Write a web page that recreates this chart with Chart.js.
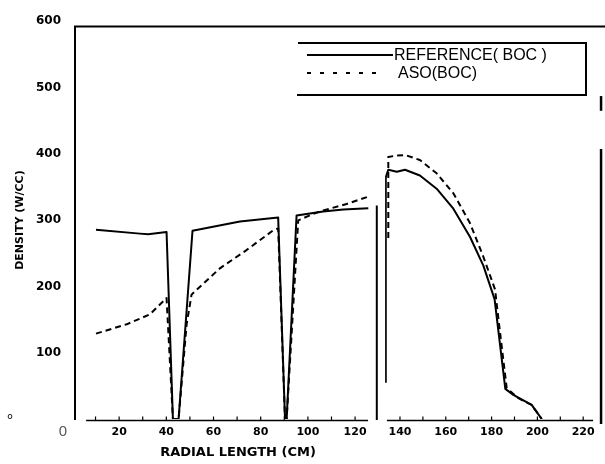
<!DOCTYPE html>
<html><head><meta charset="utf-8">
<script src="https://cdn.jsdelivr.net/npm/chart.js@4.4.0/dist/chart.umd.min.js"></script>
<style>
html,body{margin:0;padding:0;background:#fff;}
#wrap{position:relative;width:605px;height:464px;overflow:hidden;background:#fff;}
#wrap canvas{position:absolute;left:0;top:0;}
</style></head><body>
<div id="wrap"><canvas id="a" width="605" height="464"></canvas><canvas id="b" width="605" height="464"></canvas></div>
<script>
// ---- data ----
const seriesNames = ['REFERENCE( BOC )', 'ASO(BOC)'];
const xTitle = 'RADIAL LENGTH (CM)';
const yTitle = 'DENSITY (W/CC)';
const yTicks = [0, 100, 200, 300, 400, 500, 600];
const xTicks1 = [10, 20, 30, 40, 50, 60, 70, 80, 90, 100, 110, 120];
const xTicks2 = [140, 150, 160, 170, 180, 190, 200, 210, 220];

// left panel (radial length < 130 cm)
const refX1 = [10.2, 28.8, 32.3, 40.1, 42.8, 45.2, 51.1, 71.2, 87.4, 90.3, 91.0, 95.2, 106.5, 115.0, 125.6];
const refY1 = [285.5, 279.6, 278.7, 282, 0, 0, 284, 298, 304, 0, 0, 307, 313, 316, 318];
const asoX1 = [10.2, 23.2, 33.0, 40.1, 42.8, 45.2, 48.6, 50.7, 51.4, 62.7, 74.0, 85.3, 87.4, 90.3, 91.0, 95.9, 102.3, 106.5, 116.4, 125.6];
const asoY1 = [128.8, 142.8, 157.8, 182.5, 0, 0, 142.8, 187.6, 190, 227.3, 254.8, 284.6, 287.5, 0, 0, 299.5, 309.4, 314.5, 324.3, 335.4];

// right panel (radial length > 130 cm)
const refX2 = [133.8, 133.8, 134.9, 138.6, 142.2, 148.7, 156.0, 163.3, 170.6, 176.4, 181.3, 186.0, 189.5, 197.5, 201.9];
const refY2 = [54, 361, 372, 369, 372, 363.5, 343.7, 313.9, 271.6, 228.9, 179, 45, 36, 21, 0];
const asoX2 = [134.9, 134.9, 138.0, 142.2, 148.7, 156.0, 163.3, 170.6, 176.4, 181.6, 182.0, 186.6, 191.7, 197.5, 201.9];
const asoY2 = [270, 391, 393, 394, 386.6, 366.7, 336.9, 292, 242.2, 192.5, 178, 46, 31, 21, 0];

const pts = (xs, ys) => xs.map((x, i) => ({x, y: ys[i]}));

function line(ctx, x1, y1, x2, y2, w) {
  ctx.lineWidth = w; ctx.beginPath(); ctx.moveTo(x1, y1); ctx.lineTo(x2, y2); ctx.stroke();
}

const solidStyle = {borderColor:'#000', borderWidth:2, pointRadius:0, tension:0, borderJoinStyle:'round', fill:false};
const dashStyle = {borderColor:'#000', borderWidth:2, pointRadius:0, tension:0, borderDash:[6,4], borderJoinStyle:'round', fill:false};

const tickFontX = {family:'DejaVu Sans', size:11, weight:'bold'};
const tickFontY = {family:'DejaVu Sans', size:12, weight:'bold'};

const decorA = {
  id:'decorA',
  afterDraw(chart) {
    const {ctx, chartArea:ca, scales:{x, y}} = chart;
    const X = v => x.getPixelForValue(v), Y = v => y.getPixelForValue(v);
    ctx.save();
    ctx.strokeStyle = '#000'; ctx.fillStyle = '#000'; ctx.setLineDash([]);
    line(ctx, ca.left, Y(592), ca.left, ca.bottom + 1, 2);          // y axis
    line(ctx, ca.left - 1, Y(592), chart.width, Y(592), 2);          // top frame
    line(ctx, ca.right, Y(322), ca.right, ca.bottom + 1, 2);         // panel border
    line(ctx, X(6), ca.bottom + 1.5, X(125.5), ca.bottom + 1.5, 1.5); // baseline
    xTicks1.forEach(t => line(ctx, X(t), ca.bottom + 1.5, X(t), ca.bottom - 2.5, 1.2));
    // legend
    line(ctx, 298, 43, 587, 43, 2);
    line(ctx, 297, 95, 587, 95, 2);
    line(ctx, 586, 42, 586, 96, 2);
    const ds = chart.data.datasets;
    line(ctx, 307, 55, 393, 55, 2);
    ctx.setLineDash([4, 9]);
    line(ctx, 307, 73, 382, 73, 2);
    ctx.setLineDash([]);
    ctx.font = '16px "Liberation Sans"';
    ctx.textBaseline = 'middle'; ctx.textAlign = 'left';
    ctx.fillText(ds[0].label, 394, 56);
    ctx.fillText(ds[1].label, 398, 74);
    // axis title and stray labels
    ctx.font = 'bold 13px "DejaVu Sans"'; ctx.textAlign = 'center';
    ctx.fillText(xTitle, 238, 453);
    ctx.font = '9px "DejaVu Sans"';
    ctx.fillText('o', 10, 417);
    ctx.fillStyle = '#555';
    ctx.font = '15px "Liberation Sans"';
    ctx.fillText('0', 63, 432);
    ctx.restore();
  }
};

const decorB = {
  id:'decorB',
  afterDraw(chart) {
    const {ctx, chartArea:ca, scales:{x, y}} = chart;
    const X = v => x.getPixelForValue(v), Y = v => y.getPixelForValue(v);
    ctx.save();
    ctx.strokeStyle = '#000'; ctx.setLineDash([]);
    line(ctx, X(134.3), ca.bottom + 1.5, X(224.3), ca.bottom + 1.5, 1.5);
    xTicks2.forEach(t => line(ctx, X(t), ca.bottom + 1.5, X(t), ca.bottom - 2.5, 1.2));
    line(ctx, X(227.8), Y(482), X(227.8), Y(460), 2.5);
    line(ctx, X(227.8), Y(403), X(227.8), ca.bottom + 5, 2.5);
    ctx.restore();
  }
};

Chart.defaults.font.family = 'DejaVu Sans';
Chart.defaults.color = '#000';

new Chart(document.getElementById('a'), {
  type:'line',
  data:{datasets:[
    Object.assign({label:seriesNames[0], data:pts(refX1, refY1)}, solidStyle),
    Object.assign({label:seriesNames[1], data:pts(asoX1, asoY1)}, dashStyle)
  ]},
  options:{
    responsive:false, animation:false, devicePixelRatio:1,
    layout:{padding:{left:0, right:228.2, top:17, bottom:0}},
    plugins:{legend:{display:false}, tooltip:{enabled:false}},
    scales:{
      x:{type:'linear', min:1.3, max:129.2,
        afterBuildTicks:s => { s.ticks = xTicks1.map(v => ({value:v})); },
        afterFit:s => { s.height = 45; },
        grid:{display:false, drawTicks:false}, border:{display:false},
        ticks:{autoSkip:false, maxRotation:0, padding:6.5, font:tickFontX, color:'#000',
          callback:v => (v % 20 === 0 ? String(v) : '')}},
      y:{type:'linear', min:0, max:600,
        afterBuildTicks:s => { s.ticks = yTicks.map(v => ({value:v})); },
        afterFit:s => { s.width = 75; },
        grid:{display:false, drawTicks:false}, border:{display:false},
        ticks:{padding:14, font:tickFontY, color:'#000', callback:v => (v === 0 ? '' : String(v))},
        title:{display:true, text:yTitle, color:'#000', font:{family:'DejaVu Sans', size:11, weight:'bold'}, padding:{top:14, bottom:0}}}
    }
  },
  plugins:[decorA]
});

new Chart(document.getElementById('b'), {
  type:'line',
  data:{datasets:[
    Object.assign({label:seriesNames[0], data:pts(refX2, refY2)}, solidStyle),
    Object.assign({label:seriesNames[1], data:pts(asoX2, asoY2)}, dashStyle)
  ]},
  options:{
    responsive:false, animation:false, devicePixelRatio:1,
    layout:{padding:{left:385.1, right:11.5, top:17, bottom:0}},
    plugins:{legend:{display:false}, tooltip:{enabled:false}},
    scales:{
      x:{type:'linear', min:133.5, max:224.5,
        afterBuildTicks:s => { s.ticks = xTicks2.map(v => ({value:v})); },
        afterFit:s => { s.height = 45; },
        grid:{display:false, drawTicks:false}, border:{display:false},
        ticks:{autoSkip:false, maxRotation:0, padding:6.5, font:tickFontX, color:'#000',
          callback:v => (v % 20 === 0 ? String(v) : '')}},
      y:{type:'linear', min:0, max:600, display:false}
    }
  },
  plugins:[decorB]
});
</script>
</body></html>
